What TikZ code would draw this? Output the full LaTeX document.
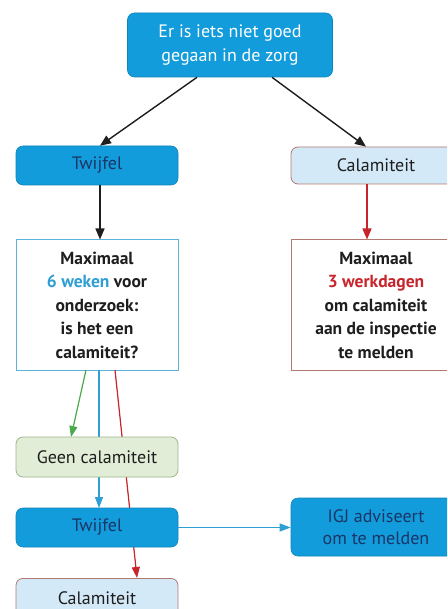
\documentclass[tikz,border=0pt]{standalone}
\usepackage{fontspec}
\setmainfont{PT Sans}
\usetikzlibrary{arrows.meta}
\definecolor{mblue}{HTML}{129CDB}
\definecolor{navy}{HTML}{1B3566}
\definecolor{lblue}{HTML}{D4E9F8}
\definecolor{lgreen}{HTML}{E1EDD6}
\definecolor{gborder}{HTML}{9DB68A}
\definecolor{rborder}{HTML}{B07A70}
\definecolor{bborder}{HTML}{5BB3D6}
\definecolor{mred}{HTML}{C8242B}
\definecolor{mgreen}{HTML}{4EA94B}
\definecolor{ablue}{HTML}{2E9FD4}
\definecolor{txt}{HTML}{1E1E1E}
\tikzset{
  box/.style={rounded corners=7pt, inner sep=0pt, align=center, font=\fontsize{18}{22}\selectfont},
  bluebox/.style={box, fill=mblue, draw=mblue!85!black, line width=0.6pt, text=navy},
  calbox/.style={box, fill=lblue, draw=rborder, line width=0.8pt, text=txt},
  greenbox/.style={box, fill=lgreen, draw=gborder, line width=0.8pt, text=txt},
  infobox/.style={inner sep=0pt, align=center, fill=white, line width=1pt, text=txt,
    font=\bfseries\fontsize{17.5}{23.5}\selectfont},
  arr/.style={-{Triangle[length=11pt,width=9pt]}, line width=1.4pt},
  thinarr/.style={-{Triangle[length=11pt,width=8pt]}, line width=1.2pt},
}
\begin{document}
\begin{tikzpicture}[x=1pt,y=-1pt]
\clip (0,0) rectangle (447,609);
\fill[white] (0,0) rectangle (447,609);
% top
\node[box, fill=mblue, draw=mblue!85!black, line width=0.6pt, text=white, minimum width=205pt, minimum height=64pt, font=\fontsize{18}{24}\selectfont] (top) at (230,45) {Er is iets niet goed\\gegaan in de zorg};
% second row
\node[bluebox, minimum width=162pt, minimum height=39pt] (tw1) at (97,165.5) {Twijfel};
\node[calbox, minimum width=170pt, minimum height=37pt] (cal1) at (376,165.5) {Calamiteit};
% info boxes
\node[infobox, draw=bborder, minimum width=162pt, minimum height=130pt] (info1) at (97,305) {Maximaal\\{\color{ablue}6 weken} voor\\onderzoek:\\is het een\\calamiteit?};
\node[infobox, draw=rborder, minimum width=170pt, minimum height=130pt] (info2) at (376,305) {Maximaal\\{\color{mred}3 werkdagen}\\om calamiteit\\aan de inspectie\\te melden};
% lower arrows (behind boxes)
\coordinate (gs) at (86,370);
\coordinate (bs) at (99,370);
\coordinate (rs) at (115,370);
\coordinate (rt) at (137,578);
\coordinate (bt) at (99,508);
\coordinate (gt) at (71,437);
\draw[thinarr, draw=mgreen, fill=mgreen] (gs) -- (gt);
\draw[thinarr, draw=ablue, fill=ablue] (bs) -- (bt);
\draw[thinarr, draw=mred, fill=mred] (rs) -- (rt);
% lower boxes
\node[greenbox, minimum width=162pt, minimum height=40pt] (geen) at (97,457) {Geen calamiteit};
\node[bluebox, minimum width=162pt, minimum height=39pt] (tw2) at (97,527.5) {Twijfel};
\node[bluebox, minimum width=170pt, minimum height=58pt, font=\fontsize{18}{22}\selectfont] (igj) at (376,527) {IGJ adviseert\\om te melden};
\node[calbox, minimum width=162pt, minimum height=50pt, anchor=north] (cal2) at (97,578) {};
\node[text=txt, font=\fontsize{18}{22}\selectfont] (cal2t) at (97,598) {Calamiteit};
% upper arrows
\draw[arr, draw=txt, fill=txt] (top.south -| 197,0) -- (tw1.north -| 100,0);
\draw[arr, draw=txt, fill=txt] (top.south -| 272,0) -- (cal1.north -| 366,0);
\draw[arr, draw=txt, fill=txt] (tw1.south -| 100,0) -- (info1.north -| 100,0);
\draw[arr, draw=mred, fill=mred] (cal1.south -| 367,0) -- (info2.north -| 367,0);
\draw[thinarr, draw=ablue, fill=ablue] (tw2.east) -- (igj.west |- tw2.east);
\end{tikzpicture}
\end{document}
